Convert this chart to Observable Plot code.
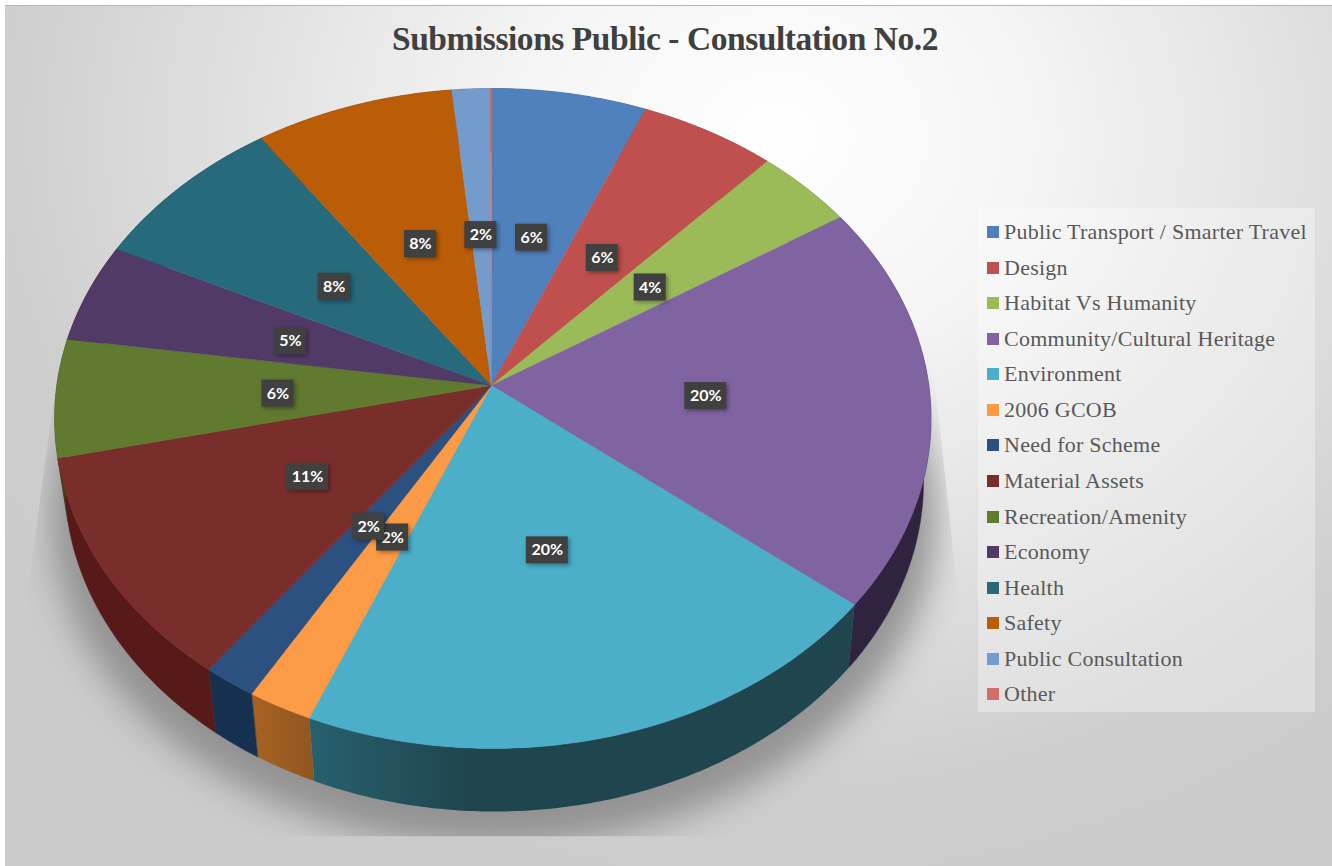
<!DOCTYPE html>
<html>
<head>
<meta charset="utf-8">
<script src="https://cdn.jsdelivr.net/npm/d3@7"></script>
<script src="https://cdn.jsdelivr.net/npm/@observablehq/plot@0.6"></script>
<style>
  html, body { margin: 0; padding: 0; background: #fff; overflow: hidden; }
  #stage { position: relative; width: 1332px; height: 866px; overflow: hidden; }
  #bg { position: absolute; left: 5px; top: 5px; right: 0; bottom: 0;
        border-top: 1.5px solid #b5b5b5;
        background: radial-gradient(ellipse 900px 760px at 770px 130px, #ffffff 0%, #f4f4f4 30%, #e0e0e0 60%, #cfcfcf 85%, #cbcbcb 100%); }
  #chart { position: absolute; left: 0; top: 0; }
  #title { position: absolute; left: 265px; width: 800px; top: 20px; text-align: center;
           font: bold 33.5px "Liberation Serif", serif; letter-spacing: -.45px; color: #404040; }
  #legend { position: absolute; left: 978px; top: 208px; width: 337px; height: 504px;
            background: rgba(255,255,255,.32); box-sizing: border-box; padding-top: 6.5px; }
  .row { display: flex; align-items: center; height: 35.54px;
         font: 22px "Liberation Serif", serif; color: #595959; white-space: nowrap; letter-spacing: .25px; }
  .swatch { width: 12px; height: 12px; margin: 0 5px 0 9px; flex: none; }
</style>
</head>
<body>
<div id="stage">
  <div id="bg"></div>
  <svg width="0" height="0" style="position:absolute">
    <defs>
      <clipPath id="shadeClip" clipPathUnits="userSpaceOnUse">
        <polygon points="57,370 26,600 26,836 958,836 958,600 930,340"></polygon>
      </clipPath>
      <linearGradient id="tealWall" gradientUnits="userSpaceOnUse" x1="310" y1="0" x2="470" y2="0">
        <stop offset="0" stop-color="#27606d"></stop><stop offset="1" stop-color="#1f454f"></stop>
      </linearGradient>
      <linearGradient id="orangeWall" gradientUnits="userSpaceOnUse" x1="252" y1="0" x2="315" y2="0">
        <stop offset="0" stop-color="#a86222"></stop><stop offset="1" stop-color="#8f5620"></stop>
      </linearGradient>
    </defs>
  </svg>
  <div id="chart"></div>
  <div id="title">Submissions Public - Consultation No.2</div>
  <div id="legend"></div>
</div>
<script>
const categories = ["Public Transport / Smarter Travel","Design","Habitat Vs Humanity","Community/Cultural Heritage","Environment","2006 GCOB","Need for Scheme","Material Assets","Recreation/Amenity","Economy","Health","Safety","Public Consultation","Other"];
const shares = [6.3,5.55,4.05,19.9,20.4,2.2,1.8,11.3,5.8,4.9,8.1,8.1,1.54,0.06];
const pctLabels = ["6%","6%","4%","20%","20%","2%","2%","11%","6%","5%","8%","8%","2%",null];
const topColors = ["#4f81bd","#c0504d","#9bbb59","#8064a2","#4bafca","#fd9a45","#2c5080","#7a2e2c","#607a30","#523a66","#266a7c","#bb5c07","#739ccd","#d16d6a"];
const wallColors = ["#2c4a6e","#702e2c","#5a6e34","#30233f","url(#tealWall)","url(#orangeWall)","#16304f","#571a18","#384619","#2d2239","#163e48","#6b3305","#435b78","#7b403e"];

// perspective view of the round pie
const view = {cx: 491, cy: 385, rx: 436, ry: 326.7, k: 0.1, m: 0.003, depth: 63, squeeze: 0.98, vanish: 557};
function project(angle, r) {
  const u = r * Math.sin(angle), v = -r * Math.cos(angle), d = 1 - view.k * v - view.m * u;
  return [view.cx + view.rx * u / d, view.cy + view.ry * v / d];
}
function lower([x, y]) {
  return [view.vanish + (x - view.vanish) * view.squeeze, y + view.depth];
}
const total = d3.sum(shares);
const ends = d3.cumsum(shares).map(c => c / total * 2 * Math.PI);
const slices = categories.map((name, i) => ({
  name, i, a0: i ? ends[i - 1] : 0, a1: ends[i], label: pctLabels[i]
}));
function arc(s) {
  const n = Math.max(2, Math.ceil((s.a1 - s.a0) / 0.01));
  return d3.range(n + 1).map(j => project(s.a0 + (s.a1 - s.a0) * j / n, 1));
}
const topPoly = s => [[view.cx, view.cy], ...arc(s)];
const wallPoly = s => { const a = arc(s); return [...a, ...a.slice().reverse().map(lower)]; };
const rim = d3.range(0, 2 * Math.PI, 0.01).map(a => lower(project(a, 1)));
const shadowRim = rim.map(([x, y]) => [494 + (x - 494) * 1.03, y + 34]);

const px = d => d[0], py = d => d[1];
const styled = css => (index, scales, values, dims, ctx, next) => {
  const g = next(index, scales, values, dims, ctx);
  Object.assign(g.style, css);
  return g;
};
const flatStroke = c => c.startsWith("url") ? "none" : c;

const marks = [
  Plot.line(shadowRim, {x: px, y: py, fill: "#8c8c8c", fillOpacity: 0.9, stroke: "none", curve: "linear-closed",
    render: styled({filter: "blur(17px)", clipPath: "url(#shadeClip)"})}),
  ...slices.map(s => Plot.line(wallPoly(s), {x: px, y: py, fill: wallColors[s.i], stroke: flatStroke(wallColors[s.i]), strokeWidth: 0.4, curve: "linear-closed"})),
  ...slices.map(s => Plot.line(topPoly(s), {x: px, y: py, fill: topColors[s.i], stroke: topColors[s.i], strokeWidth: 0.4, curve: "linear-closed"})),
  ...slices.filter(s => s.label).flatMap(s => {
    const [x, y] = project((s.a0 + s.a1) / 2, 0.49);
    const d = {x, y: y + 2, label: s.label, hw: 6 + 5 * s.label.length, hh: 13.5};
    return [
      Plot.rect([d], {x1: e => e.x - e.hw + 2, x2: e => e.x + e.hw + 2, y1: e => e.y - e.hh + 2, y2: e => e.y + e.hh + 2,
        fill: "#000", fillOpacity: 0.35, render: styled({filter: "blur(2px)"})}),
      Plot.rect([d], {x1: e => e.x - e.hw, x2: e => e.x + e.hw, y1: e => e.y - e.hh, y2: e => e.y + e.hh, fill: "#404040"}),
      Plot.text([d], {x: "x", y: "y", text: "label", fill: "#fff", fontSize: 16, fontWeight: 700, fontFamily: "Lato, sans-serif"})
    ];
  })
];

const plot = Plot.plot({
  width: 1332, height: 866,
  margin: 0, axis: null,
  x: {domain: [0, 1332], range: [0, 1332]},
  y: {domain: [0, 866], range: [0, 866]},
  style: {background: "transparent", overflow: "visible"},
  marks
});
document.getElementById("chart").append(plot);

const legend = d3.select("#legend");
categories.forEach((c, i) => {
  const row = legend.append("div").attr("class", "row");
  row.append("span").attr("class", "swatch").style("background", topColors[i]);
  row.append("span").text(c);
});
</script>
</body>
</html>
